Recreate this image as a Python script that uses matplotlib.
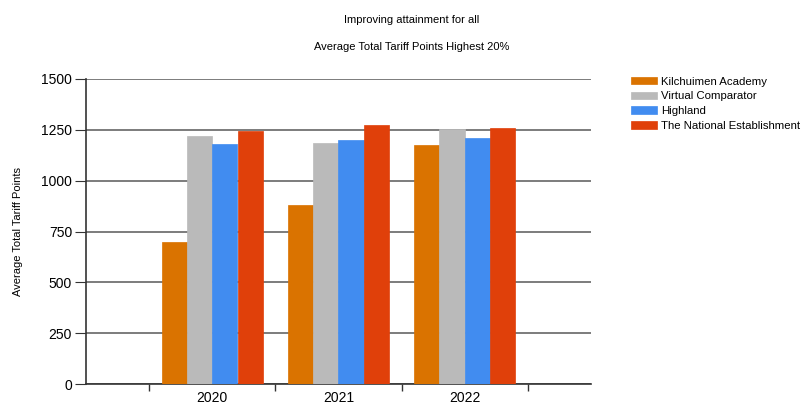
import numpy as np
import matplotlib
matplotlib.use("Agg")
import matplotlib.pyplot as plt

plt.rcParams['font.family'] = ['Liberation Sans', 'DejaVu Sans']

years = ["2020", "2021", "2022"]
series_names = ["Kilchuimen Academy", "Virtual Comparator", "Highland",
                "The National Establishment"]
kilchuimen = [698, 878, 1173]
virtual_comp = [1220, 1186, 1253]
highland = [1180, 1201, 1212]
national = [1245, 1273, 1257]
colors = ["#DA7300", "#BABABA", "#418CF0", "#E0400A"]

values = [kilchuimen, virtual_comp, highland, national]

fig = plt.figure(figsize=(8.03, 4.07), dpi=100)
ax = fig.add_axes([86 / 803, 23 / 407, (591 - 86) / 803, (384 - 79) / 407])

x = np.arange(1, len(years) + 1)
width = 0.2
for i, (vals, name, col) in enumerate(zip(values, series_names, colors)):
    ax.bar(x + (i - 1.5) * width, vals, width, color=col, label=name,
           edgecolor=col, linewidth=0.5, zorder=3)

ax.set_xlim(0, 4)
ax.set_ylim(0, 1500)
ax.set_yticks(range(0, 1501, 250))
ax.set_xticks(x)
ax.set_xticklabels(years)
ax.set_xticks(np.arange(0.5, 4, 1), minor=True)
ax.tick_params(axis='x', which='major', length=0, labelsize=10, pad=5)
ax.tick_params(axis='x', which='minor', length=5, direction='out',
               color='#333333', width=1)
ax.tick_params(axis='y', length=8, direction='out', color='#333333',
               labelsize=10, pad=2)

ax.grid(axis='y', color='#666666', linewidth=1.2, zorder=0)
for s in ['top', 'right']:
    ax.spines[s].set_visible(False)
for s in ['left', 'bottom']:
    ax.spines[s].set_color('#333333')
    ax.spines[s].set_linewidth(1.2)

ax.set_ylabel("Average Total Tariff Points", fontsize=8, labelpad=13)

fig.text(412 / 803, 1 - 20 / 407, "Improving attainment for all",
         ha='center', va='center', fontsize=8)
fig.text(412 / 803, 1 - 47 / 407, "Average Total Tariff Points Highest 20%",
         ha='center', va='center', fontsize=8)

ax.legend(loc='upper left', bbox_to_anchor=(626 / 803, 1 - 72 / 407),
          bbox_transform=fig.transFigure, frameon=False, fontsize=8.2,
          handlelength=2.3, handleheight=0.6, labelspacing=0.42,
          handletextpad=0.4, borderaxespad=0)

fig.savefig("out.png", dpi=100)
